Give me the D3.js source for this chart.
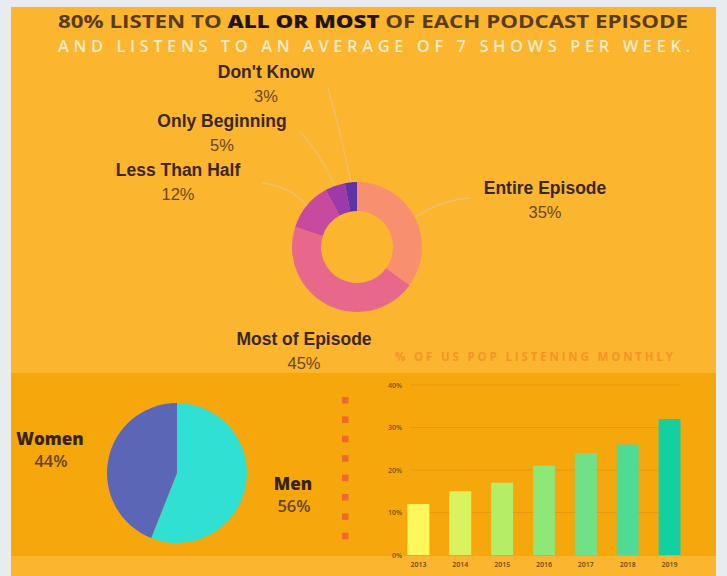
<!DOCTYPE html>
<html><head><meta charset="utf-8">
<script src="https://cdn.jsdelivr.net/npm/d3@7"></script>
<style>html,body{margin:0;padding:0;background:#e9ecef;}svg{display:block;}</style>
</head><body>
<script>
// ---- data ----
const listenCategories = ["Entire Episode","Most of Episode","Less Than Half","Only Beginning","Don't Know"];
const listenValues = [35,45,12,5,3];
const listenLabels = ["35%","45%","12%","5%","3%"];
const genderCategories = ["Men","Women"];
const genderValues = [56,44];
const genderLabels = ["56%","44%"];
const years = ["2013","2014","2015","2016","2017","2018","2019"];
const monthlyValues = [12,15,17,21,24,26,32];
const yTicks = [0,10,20,30,40];
const yTickLabels = ["0%","10%","20%","30%","40%"];

// ---- styles / layout ----
const W=727,H=576;
const donutColors=["#f8906f","#e8688b","#c84a9e","#9c3aa9","#5e33a6"];
const genderColors=["#2fe0d3","#5b66b6"];
const barColors=["#fdf65c","#d9f25d","#b5ee66","#8fe776","#6fe288","#4fdb96","#14cfa2"];
const donutLabelPos=[[545,194],[304,345],[178,176],[222,127],[266,78]];
const leaderEnds=[[470,198],null,[262,183],[300,132],[328,88]];
const leaderCtrl=[[440,200],null,[290,186],[318,150],[340,130]];

const svg=d3.select("body").append("svg").attr("width",W).attr("height",H);
svg.append("rect").attr("width",W).attr("height",H).attr("fill","#e9ecef");
svg.append("rect").attr("x",11).attr("y",7).attr("width",705).attr("height",H-7).attr("fill","#fcb52f");
svg.append("rect").attr("x",11).attr("y",373).attr("width",705).attr("height",183).attr("fill","#f6a70c");

// title
const t1=svg.append("text").attr("x",373).attr("y",28).attr("text-anchor","middle")
  .attr("font-family","'Open Sans',sans-serif").attr("font-weight",700).attr("font-size",18)
  .attr("textLength",630).attr("lengthAdjust","spacingAndGlyphs").attr("fill","#5a3d18");
t1.append("tspan").text("80% LISTEN TO ");
t1.append("tspan").attr("fill","#231408").attr("font-weight",800).text("ALL OR MOST");
t1.append("tspan").text(" OF EACH PODCAST EPISODE");
svg.append("text").attr("x",374).attr("y",52).attr("text-anchor","middle")
  .attr("font-family","'Open Sans',sans-serif").attr("font-weight",600).attr("font-size",16.5)
  .attr("textLength",632).attr("lengthAdjust","spacing").attr("fill","#fdeccb")
  .text("AND LISTENS TO AN AVERAGE OF 7 SHOWS PER WEEK.");

// donut
const cx=357,cy=247,ro=65,ri=36;
const pie=d3.pie().sort(null).value(d=>d);
const arcs=pie(listenValues);
const arc=d3.arc().innerRadius(ri).outerRadius(ro);
const arcOuter=d3.arc().innerRadius(ro).outerRadius(ro);
const dg=svg.append("g").attr("transform",`translate(${cx},${cy})`);
dg.selectAll("path").data(arcs).join("path").attr("d",arc).attr("fill",(d,i)=>donutColors[i]);
arcs.forEach((a,i)=>{
  if(!leaderEnds[i]) return;
  const c=arcOuter.centroid(a);
  const p=d3.path();
  p.moveTo(cx+c[0],cy+c[1]);
  p.quadraticCurveTo(leaderCtrl[i][0],leaderCtrl[i][1],leaderEnds[i][0],leaderEnds[i][1]);
  svg.append("path").attr("d",p.toString()).attr("fill","none").attr("stroke","#ecc072").attr("stroke-width",1.3);
});
listenCategories.forEach((c,i)=>{
  const [x,y]=donutLabelPos[i];
  svg.append("text").attr("x",x).attr("y",y).attr("text-anchor","middle")
    .attr("font-family","'Liberation Sans',Arial,sans-serif").attr("font-weight",700).attr("font-size",17.5)
    .attr("fill","#3a2810").text(c);
  svg.append("text").attr("x",x).attr("y",y+24).attr("text-anchor","middle")
    .attr("font-family","'Liberation Sans',Arial,sans-serif").attr("font-size",16.5)
    .attr("fill","#6a4a14").text(listenLabels[i]);
});

// gender pie
const gcx=177,gcy=473,gr=70;
const gArcs=pie(genderValues);
const gArc=d3.arc().innerRadius(0).outerRadius(gr);
svg.append("g").attr("transform",`translate(${gcx},${gcy})`).selectAll("path").data(gArcs).join("path")
  .attr("d",gArc).attr("fill",(d,i)=>genderColors[i]);
const gLabelPos=[[293,490],[50,445]];
genderCategories.forEach((c,i)=>{
  const [x,y]=gLabelPos[i];
  svg.append("text").attr("x",x).attr("y",y).attr("text-anchor","middle")
    .attr("font-family","'Open Sans',sans-serif").attr("font-weight",800).attr("font-size",17)
    .attr("fill","#3a2408").text(c);
  svg.append("text").attr("x",x+1).attr("y",y+22).attr("text-anchor","middle")
    .attr("font-family","'Open Sans',sans-serif").attr("font-weight",600).attr("font-size",16.5)
    .attr("fill","#6a4410").text(genderLabels[i]);
});

// dots column
d3.range(8).forEach(i=>{
  svg.append("rect").attr("x",342).attr("y",397+i*19.4).attr("width",6.5).attr("height",6.5).attr("fill","#f0682a");
});

// bar chart
svg.append("text").attr("x",534).attr("y",361).attr("text-anchor","middle")
  .attr("font-family","'Open Sans',sans-serif").attr("font-weight",700).attr("font-size",11.5)
  .attr("textLength",278).attr("lengthAdjust","spacing").attr("fill","#f39427")
  .text("% OF US POP LISTENING MONTHLY");
const x=d3.scaleBand().domain(years).range([397,691]).paddingInner(0.476).paddingOuter(0.25);
const y=d3.scaleLinear().domain([0,40]).range([555,385]);
const grid=svg.append("g");
grid.selectAll("line").data(yTicks.slice(1)).join("line")
  .attr("x1",410).attr("x2",681).attr("y1",d=>y(d)).attr("y2",d=>y(d))
  .attr("stroke","#e6990e").attr("stroke-width",1);
const yAxis=d3.axisLeft(y).tickValues(yTicks).tickFormat((d,i)=>yTickLabels[i]).tickSize(0).tickPadding(0);
const ya=svg.append("g").attr("transform","translate(402,0)").call(yAxis);
ya.select(".domain").remove();
ya.selectAll("text").attr("font-family","'Open Sans',sans-serif").attr("font-size",7).attr("font-weight",600).attr("fill","#7a5510");
svg.append("g").selectAll("rect").data(monthlyValues).join("rect")
  .attr("x",(d,i)=>x(years[i])).attr("width",x.bandwidth())
  .attr("y",d=>y(d)).attr("height",d=>y(0)-y(d)).attr("fill",(d,i)=>barColors[i]);
const xAxis=d3.axisBottom(x).tickSize(0).tickPadding(0);
const xa=svg.append("g").attr("transform","translate(0,562)").call(xAxis);
xa.select(".domain").remove();
xa.selectAll("text").attr("font-family","'Open Sans',sans-serif").attr("font-size",7).attr("font-weight",600).attr("fill","#6b4a10");
</script>
</body></html>
